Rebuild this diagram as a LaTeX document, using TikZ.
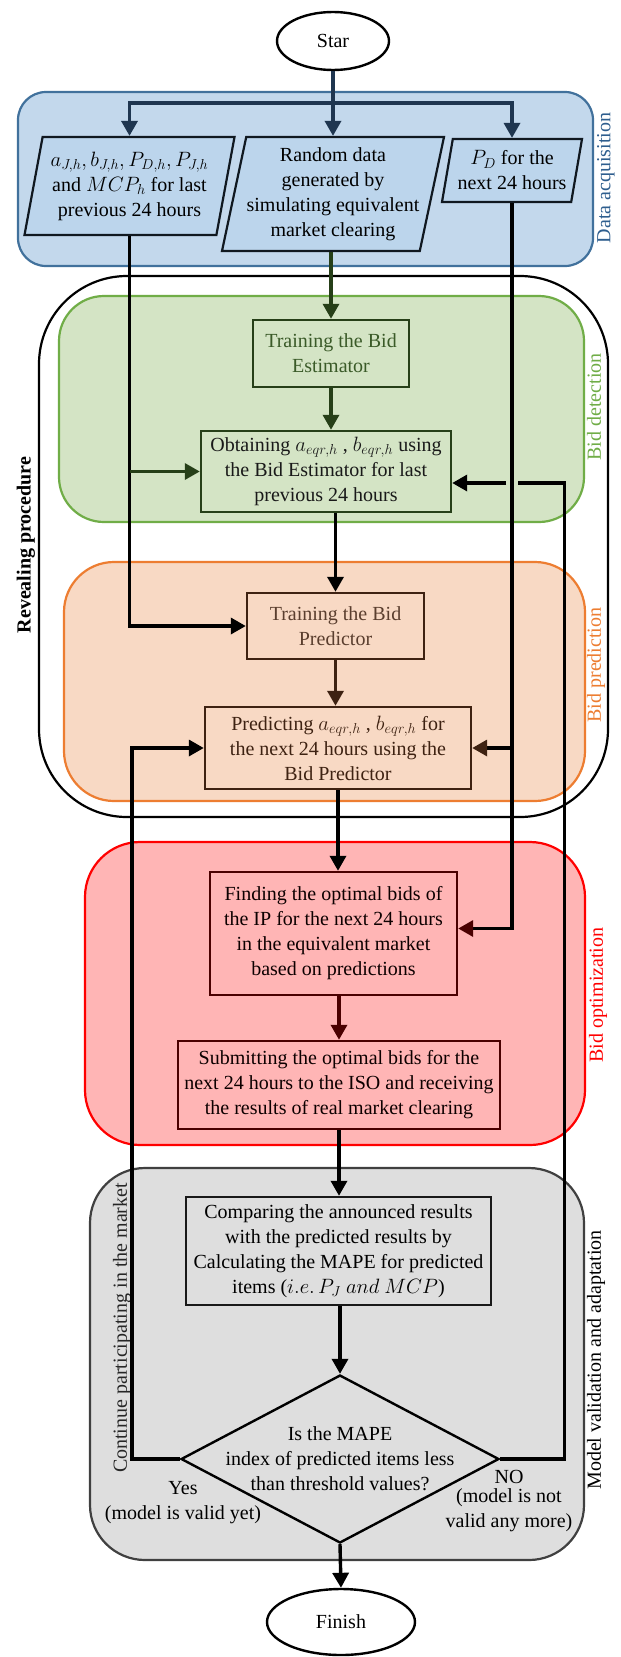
\documentclass[tikz,border=0pt]{standalone}
\usepackage{fontspec}
\setmainfont{Liberation Serif}
\usetikzlibrary{shapes.geometric,arrows.meta,calc}
\definecolor{bluefill}{HTML}{C3D8EC}
\definecolor{blueline}{HTML}{41719C}
\definecolor{bluetext}{HTML}{2E5E8E}
\definecolor{parafill}{HTML}{BCD5EC}
\definecolor{paraline}{HTML}{101820}
\definecolor{navy}{HTML}{1F3650}
\definecolor{greenfill}{HTML}{D4E4C5}
\definecolor{greenline}{HTML}{70AD47}
\definecolor{dkgreen}{HTML}{263F18}
\definecolor{gtext}{HTML}{3A5A28}
\definecolor{orfill}{HTML}{F8D9C4}
\definecolor{orline}{HTML}{ED7D31}
\definecolor{dkbrown}{HTML}{3E2212}
\definecolor{brtext}{HTML}{5A3E2E}
\definecolor{redfill}{HTML}{FFB5B5}
\definecolor{redline}{HTML}{FF0000}
\definecolor{dkred}{HTML}{4A0000}
\definecolor{grayfill}{HTML}{DEDEDE}
\definecolor{grayline}{HTML}{404040}
\begin{document}
\begin{tikzpicture}[x=1pt,y=-1pt,font=\fontsize{20}{25}\selectfont,
 grp/.style={line width=2.2pt},
 box/.style={draw, rectangle, line width=2.4pt, inner sep=1pt, align=center},
 con/.style={line width=3.4pt},
 arr/.style={con, -{Triangle[length=15pt,width=16pt,color=#1]}},
 arr/.default=black,
 para/.style={trapezium, trapezium left angle=76, trapezium right angle=104, trapezium stretches body, draw=paraline, fill=parafill, line width=2.2pt, align=center, inner xsep=0pt, inner ysep=2pt},
 term/.style={draw, ellipse, line width=2.4pt, fill=white, inner sep=0pt},
 glabel/.style={rotate=90},
]
\fill[white] (0,0) rectangle (621,1657);
\useasboundingbox (0,0) rectangle (621,1657);

% groups
\filldraw[grp, fill=bluefill, draw=blueline, rounded corners=28pt] (18,92) rectangle (593,266);
\draw[grp, draw=black, rounded corners=88pt] (39,276) rectangle (608,817);
\filldraw[grp, fill=greenfill, draw=greenline, rounded corners=45pt] (59,296) rectangle (584,522);
\filldraw[grp, fill=orfill, draw=orline, rounded corners=50pt] (64,562) rectangle (585,801);
\filldraw[grp, fill=redfill, draw=redline, rounded corners=55pt] (85,842) rectangle (585,1145);
\filldraw[grp, fill=grayfill, draw=grayline, rounded corners=55pt] (90,1168) rectangle (584,1560);

% group labels
\node[glabel, text=bluetext] (lda) at (606,178) {Data acquisition};
\node[glabel, text=greenline] (lbd) at (594,407) {Bid detection};
\node[glabel, text=orline] (lbp) at (596,665) {Bid prediction};
\node[glabel, text=redline] (lbo) at (598,995) {Bid optimization};
\node[glabel] (lmv) at (596,1360) {Model validation and adaptation};
\node[glabel, font=\fontsize{20}{25}\selectfont\bfseries] (lrp) at (26,545) {Revealing procedure};
\node[glabel, text=black!85] (lcp) at (122,1328) {Continue participating in the market};

% nodes
\node[term, minimum width=112pt, minimum height=58pt] (star) at (333,41) {Star};
\node[para, minimum width=210pt, minimum height=98pt] (pa) at (129.5,186)
  {$a_{J,h}, b_{J,h}, P_{D,h}, P_{J,h}$\\and $MCP_h$ for last\\previous 24 hours};
\node[para, minimum width=222pt, minimum height=114pt] (pb) at (333,194)
  {Random data\\generated by\\simulating equivalent\\market clearing};
\node[para, minimum width=140pt, minimum height=63pt] (pc) at (512,170.5)
  {$P_D$ for the\\next 24 hours};

\node[box, draw=dkgreen, text=gtext, minimum width=156pt, minimum height=67pt] (test) at (331,353.5)
  {Training the Bid\\Estimator};
\node[box, draw=dkgreen, text=black!90, minimum width=250pt, minimum height=81pt] (obt) at (326,471.5)
  {Obtaining $a_{eqr,h}$ , $b_{eqr,h}$ using\\the Bid Estimator for last\\previous 24 hours};
\node[box, draw=dkbrown, text=brtext, minimum width=177pt, minimum height=66pt] (tpred) at (335.5,626)
  {Training the Bid\\Predictor};
\node[box, draw=dkbrown, text=dkbrown, minimum width=266pt, minimum height=82pt] (pred) at (338,748)
  {Predicting $a_{eqr,h}$ , $b_{eqr,h}$ for\\the next 24 hours using the\\Bid Predictor};
\node[box, draw=dkred, text=black!95!red, minimum width=247pt, minimum height=123pt] (find) at (333.5,933.5)
  {Finding the optimal bids of\\the IP for the next 24 hours\\in the equivalent market\\based on predictions};
\node[box, draw=dkred, text=black!95!red, minimum width=322pt, minimum height=88pt] (sub) at (339,1085)
  {Submitting the optimal bids for the\\next 24 hours to the ISO and receiving\\the results of real market clearing};
\node[box, draw=black!90, minimum width=305pt, minimum height=108pt] (cmp) at (338.5,1251)
  {Comparing the announced results\\with the predicted results by\\Calculating the MAPE for predicted\\items ($i.e.\,P_J\ and\ MCP$)};
\node[diamond, draw, line width=2.4pt, minimum width=318pt, minimum height=168pt, inner sep=0pt] (dia) at (340,1459) {};
\node[align=center, inner sep=0pt] (diat) at (dia.center)
  {Is the MAPE\\index of predicted items less\\than threshold values?};
\node[align=center, inner sep=0pt] (yes) at (183,1503) {Yes\\(model is valid yet)};
\node[align=center, inner sep=0pt] (no) at (509,1501) {NO\\[-6pt](model is not\\valid any more)};
\node[term, minimum width=148pt, minimum height=66pt] (fin) at (341,1622) {Finish};

% connectors: data acquisition
\coordinate (jn) at (333,103);
\draw[con, navy] (star.south) -- (jn);
\draw[arr=navy, navy] (jn) -| (pa.north);
\draw[arr=navy, navy] (jn) -- (jn |- pb.north);
\draw[arr=navy, navy] (jn) -| (pc.north);

% bid detection
\draw[arr=dkgreen, dkgreen] (test.north |- pb.south) -- (test.north);
\draw[arr=dkgreen, dkgreen] (test.south) -- (test.south |- obt.north);
\draw[arr] (pa.south) |- (tpred.west);
\draw[arr=dkgreen, dkgreen] (pa.south |- obt.west) -- (obt.west);

% bid prediction
\draw[arr] (tpred.north |- obt.south) -- (tpred.north);
\draw[arr=dkbrown, dkbrown] (tpred.south) -- (tpred.south |- pred.north);
\draw[arr=dkbrown] (pc.south |- pred.east) -- (pred.east);

% bid optimization
\draw[arr] (pred.south) -- (pred.south |- find.north);
\draw[arr=dkred] (pc.south) |- ([yshift=5pt]find.east);
\draw[arr=dkred, dkred] (sub.north |- find.south) -- (sub.north);

% validation
\draw[arr] (sub.south) -- (sub.south |- cmp.north);
\draw[arr] (dia.north |- cmp.south) -- (dia.north);
\draw[arr] (dia.south) -- (fin.north);

% Yes loop
\draw[arr] (dia.west) -- ++(-48,0) |- (pred.west);
% NO loop with a gap where the P_D line crosses
\coordinate (oin) at ([yshift=-11.5pt]obt.east);
\coordinate (nc) at ($(dia.east)+(64,0)$);
\draw[con] (dia.east) -| (nc |- oin) -- ($(pc.south |- oin)+(6,0)$);
\draw[arr] ($(pc.south |- oin)+(-6,0)$) -- (oin);
\end{tikzpicture}
\end{document}
